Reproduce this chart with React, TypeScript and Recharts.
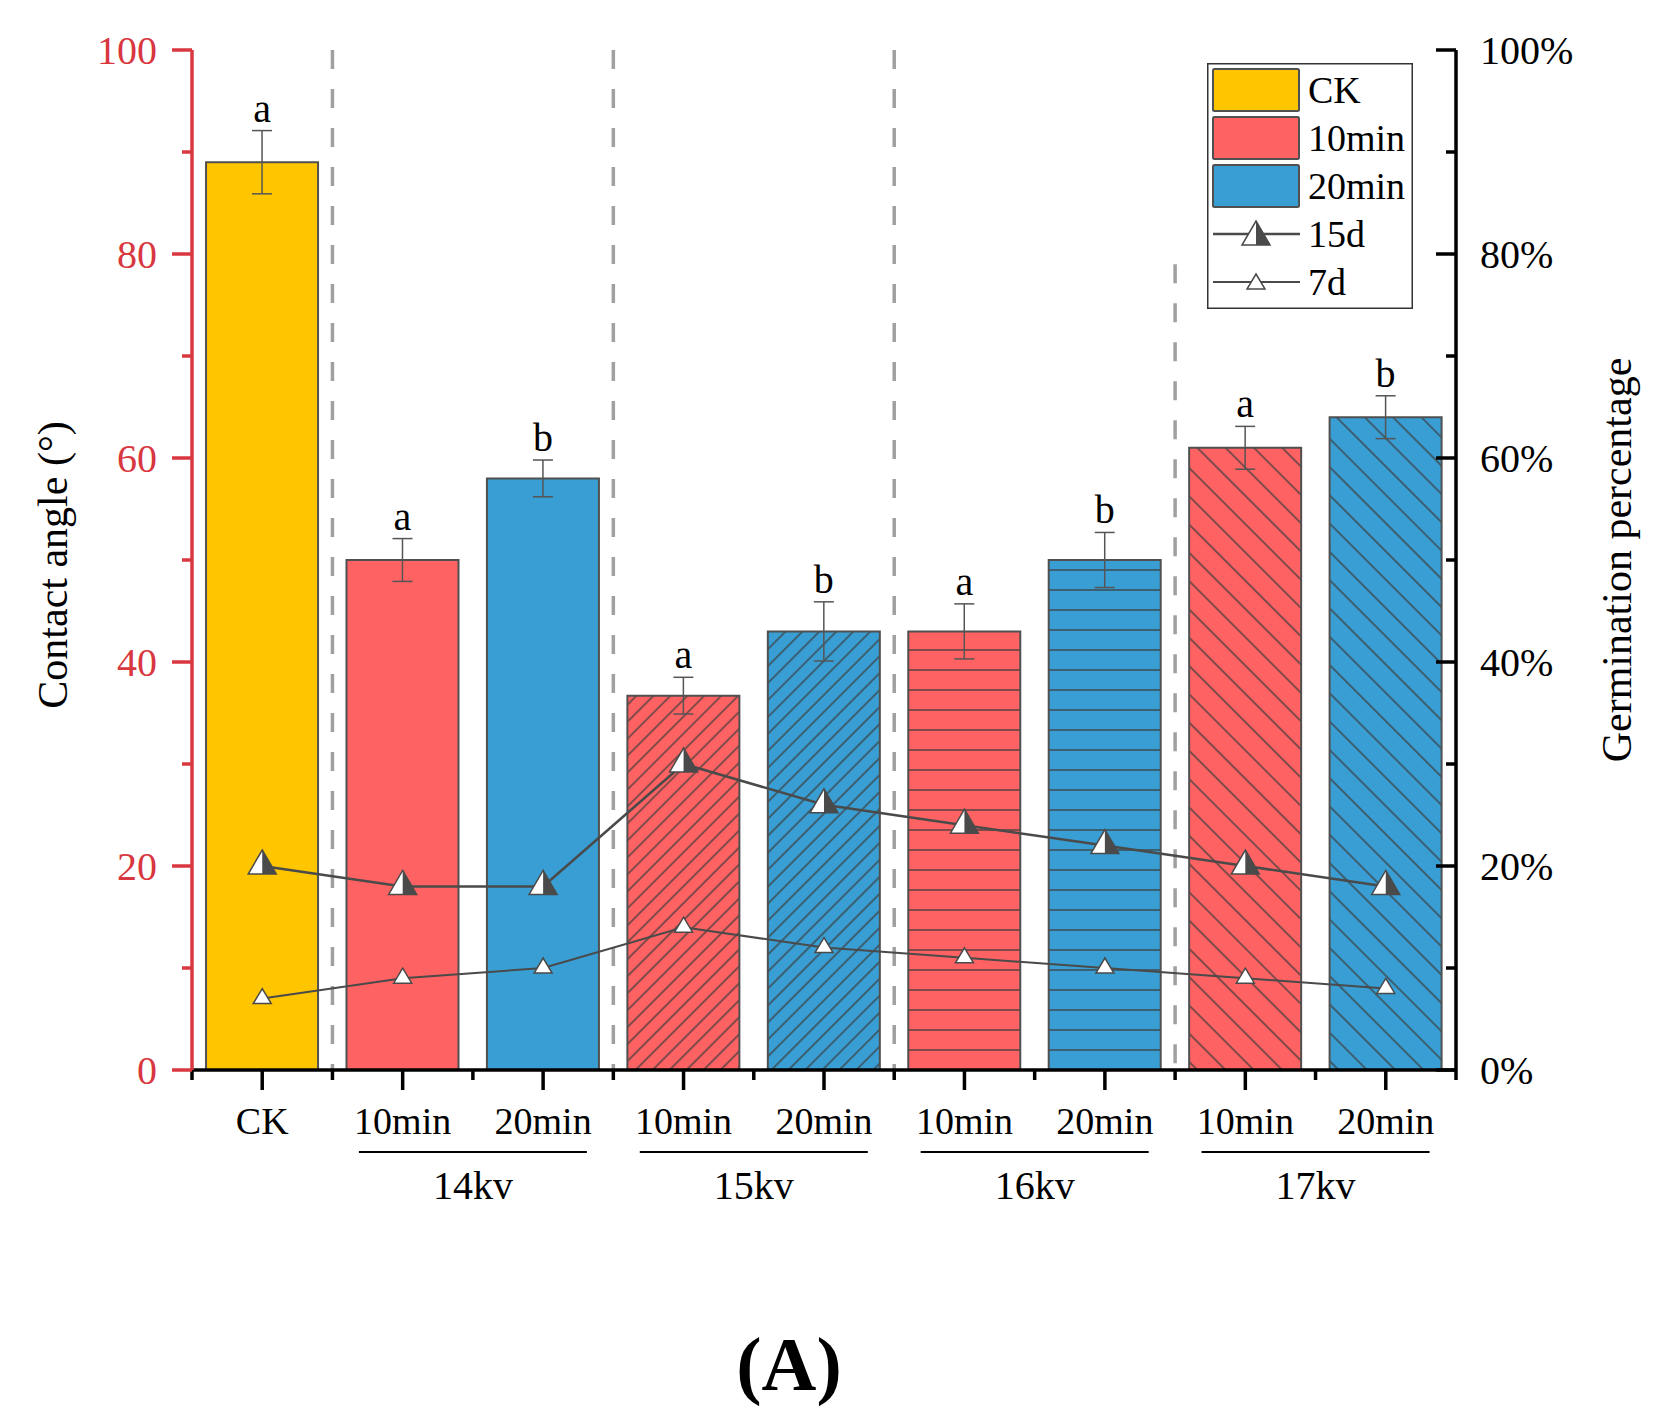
import { Bar, Cell, ComposedChart, ErrorBar, Label, LabelList, Legend, Line, ReferenceLine, XAxis, YAxis } from 'recharts'

const CATEGORIES = ['CK', '10min', '20min', '10min', '20min', '10min', '20min', '10min', '20min']
const GROUPS = ['', '14kv', '14kv', '15kv', '15kv', '16kv', '16kv', '17kv', '17kv']
const ANGLE = [89, 50, 58, 36.7, 43, 43, 50, 61, 64]
const ANGLE_SD = [3.1, 2.1, 1.8, 1.8, 2.9, 2.7, 2.7, 2.1, 2.1]
const LETTERS = ['a', 'a', 'b', 'a', 'b', 'a', 'b', 'a', 'b']
const GERM_15D = [20, 18, 18, 30, 26, 24, 22, 20, 18]
const GERM_7D = [7, 9, 10, 14, 12, 11, 10, 9, 8]
const Y_TICKS = [0, 10, 20, 30, 40, 50, 60, 70, 80, 90, 100]
const LEGEND_LABELS = ['CK', '10min', '20min', '15d', '7d']

const FONT = '"Liberation Serif", "Times New Roman", serif'
const RED_AXIS = '#d8373f'
const YELLOW = '#ffc600'
const RED = '#ff6262'
const BLUE = '#389ed3'
const OUTLINE = '#505050'
const MARKER = '#4a4a4a'
const DASH = '#a0a0a0'

// unique key per bar so the category axis keeps all nine slots apart
const keyOf = (i: number) => `${GROUPS[i] || 'ctrl'} ${CATEGORIES[i]}`

const data = CATEGORIES.map((cond, i) => ({
  key: keyOf(i),
  angle: ANGLE[i],
  sd: ANGLE_SD[i],
  d15: GERM_15D[i],
  d7: GERM_7D[i],
}))

// first bar of every voltage group gets a dashed separator on its left
const separators = GROUPS.map((g, i) => (g && GROUPS[i - 1] !== g ? keyOf(i) : null)).filter(Boolean) as string[]

const PATTERN_BY_GROUP: Record<string, string> = { '15kv': 'fwd', '16kv': 'horiz', '17kv': 'back' }

function barFill(i: number) {
  if (!GROUPS[i]) return YELLOW
  const tone = CATEGORIES[i] === '10min' ? 'red' : 'blue'
  const pat = PATTERN_BY_GROUP[GROUPS[i]]
  if (pat) return `url(#${pat}-${tone})`
  return tone === 'red' ? RED : BLUE
}

function Hatch({ id, color, angle, gap }: { id: string; color: string; angle: number; gap: number }) {
  return (
    <pattern id={id} patternUnits="userSpaceOnUse" width={gap} height={gap} patternTransform={`rotate(${angle})`}>
      <rect width={gap} height={gap} fill={color} />
      <line x1={gap / 2} y1={0} x2={gap / 2} y2={gap} stroke="#3d3d3d" strokeWidth={1.3} />
    </pattern>
  )
}

function HalfTriangle({ cx, cy }: { cx: number; cy: number }) {
  return (
    <g>
      <polygon points={`${cx},${cy - 16} ${cx + 14},${cy + 8} ${cx - 14},${cy + 8}`} fill="#fff" stroke={MARKER} strokeWidth={1.5} />
      <polygon points={`${cx},${cy - 16} ${cx + 14},${cy + 8} ${cx},${cy + 8}`} fill={MARKER} />
    </g>
  )
}

function OpenTriangle({ cx, cy }: { cx: number; cy: number }) {
  return <polygon points={`${cx},${cy - 10} ${cx + 9},${cy + 5} ${cx - 9},${cy + 5}`} fill="#fff" stroke={MARKER} strokeWidth={1.5} />
}

const textStyle = { fontFamily: FONT, fontSize: 40 }

function LeftTick({ x, y, payload }: any) {
  const major = payload.value % 20 === 0
  return (
    <g>
      <line x1={x - (major ? 20 : 10)} x2={x} y1={y} y2={y} stroke={RED_AXIS} strokeWidth={3.5} />
      {major && (
        <text x={x - 35} y={y} textAnchor="end" dominantBaseline="central" fill={RED_AXIS} style={textStyle}>
          {payload.value}
        </text>
      )}
    </g>
  )
}

function RightTick({ x, y, payload }: any) {
  const major = payload.value % 20 === 0
  return (
    <g>
      <line x1={x - (major ? 20 : 10)} x2={x} y1={y} y2={y} stroke="#000" strokeWidth={3.5} />
      {major && (
        <text x={x + 24} y={y} textAnchor="start" dominantBaseline="central" fill="#000" style={textStyle}>
          {`${payload.value}%`}
        </text>
      )}
    </g>
  )
}

function CategoryTick(props: any) {
  const { x, y, index, width, visibleTicksCount } = props
  const band = width / visibleTicksCount
  const group = GROUPS[index]
  const groupStart = group && GROUPS[index - 1] !== group
  const gx = x + band / 2
  return (
    <g>
      <line x1={x} x2={x} y1={y} y2={y + 20} stroke="#000" strokeWidth={3.5} />
      <line x1={x - band / 2} x2={x - band / 2} y1={y} y2={y + 10} stroke="#000" strokeWidth={3.5} />
      {index === visibleTicksCount - 1 && <line x1={x + band / 2} x2={x + band / 2} y1={y} y2={y + 10} stroke="#000" strokeWidth={3.5} />}
      <text x={x} y={y + 51} textAnchor="middle" dominantBaseline="central" fill="#000" style={{ fontFamily: FONT, fontSize: 38 }}>
        {CATEGORIES[index]}
      </text>
      {groupStart && (
        <g>
          <line x1={gx - 114} x2={gx + 114} y1={y + 82} y2={y + 82} stroke="#000" strokeWidth={2} />
          <text x={gx} y={y + 115} textAnchor="middle" dominantBaseline="central" fill="#000" style={textStyle}>
            {group}
          </text>
        </g>
      )}
    </g>
  )
}

function LetterLabel(props: any) {
  const { x, y, width, height, value, index } = props
  const perUnit = height / value
  const top = y - ANGLE_SD[index] * perUnit
  return (
    <text x={x + width / 2} y={top - 9} textAnchor="middle" fill="#000" style={textStyle}>
      {LETTERS[index]}
    </text>
  )
}

function LegendBox() {
  const swatches = [YELLOW, RED, BLUE]
  return (
    <svg width={206} height={246} style={{ display: 'block' }}>
      <rect x={0.75} y={0.75} width={204.5} height={244.5} fill="#fff" stroke="#333" strokeWidth={1.5} />
      {LEGEND_LABELS.map((name, i) => {
        const cy = 27 + i * 48
        return (
          <g key={name}>
            {i < 3 && <rect x={6} y={cy - 21} width={86} height={42} rx={1.5} fill={swatches[i]} stroke={OUTLINE} strokeWidth={2} />}
            {i >= 3 && <line x1={6} x2={93} y1={cy} y2={cy} stroke={MARKER} strokeWidth={i === 3 ? 2.5 : 2} />}
            {i === 3 && <HalfTriangle cx={49} cy={cy + 3} />}
            {i === 4 && <OpenTriangle cx={49} cy={cy + 2} />}
            <text x={101} y={cy + 13} fill="#000" style={{ fontFamily: FONT, fontSize: 38 }}>
              {name}
            </text>
          </g>
        )
      })}
    </svg>
  )
}

const dashStyle = { stroke: DASH, strokeWidth: 3.5, strokeDasharray: '19 20' }

export default function App() {
  const lastSep = separators[separators.length - 1]
  return (
    <div style={{ width: 1665, height: 1426 }}>
      <style>{'body{margin:0}'}</style>
      <ComposedChart
        width={1665}
        height={1426}
        data={data}
        margin={{ top: 50, right: 0, bottom: 0, left: 0 }}
        barCategoryGap="10%"
        style={{ fontFamily: FONT }}
      >
        <defs>
          <Hatch id="fwd-red" color={RED} angle={45} gap={12} />
          <Hatch id="fwd-blue" color={BLUE} angle={45} gap={12} />
          <Hatch id="horiz-red" color={RED} angle={90} gap={20} />
          <Hatch id="horiz-blue" color={BLUE} angle={90} gap={20} />
          <Hatch id="back-red" color={RED} angle={-45} gap={20} />
          <Hatch id="back-blue" color={BLUE} angle={-45} gap={20} />
        </defs>
        <XAxis
          xAxisId="cat"
          dataKey="key"
          height={356}
          interval={0}
          tickSize={0}
          tickMargin={0}
          tickLine={false}
          axisLine={{ stroke: '#000', strokeWidth: 3.5 }}
          tick={CategoryTick}
        >
          <Label
            content={({ viewBox }: any) => (
              <text
                x={viewBox.x + viewBox.width / 2 - 35}
                y={viewBox.y + 320}
                textAnchor="middle"
                fill="#000"
                style={{ fontFamily: FONT, fontSize: 76, fontWeight: 'bold' }}
              >
                (A)
              </text>
            )}
          />
        </XAxis>
        <XAxis
          xAxisId="top"
          orientation="top"
          type="number"
          domain={[0, 9]}
          allowDataOverflow
          height={0}
          tick={false}
          tickLine={false}
          axisLine={{ stroke: '#000', strokeWidth: 3.5 }}
        />
        <YAxis
          yAxisId="left"
          width={192}
          domain={[0, 100]}
          ticks={Y_TICKS}
          interval={0}
          tickSize={0}
          tickMargin={0}
          tickLine={false}
          axisLine={{ stroke: RED_AXIS, strokeWidth: 3.5 }}
          tick={LeftTick}
        >
          <Label
            content={({ viewBox }: any) => {
              const cx = viewBox.x + 53
              const cy = viewBox.y + viewBox.height / 2 + 5
              return (
                <text x={cx} y={cy} transform={`rotate(-90 ${cx} ${cy})`} textAnchor="middle" dominantBaseline="central" fill="#000" style={{ fontFamily: FONT, fontSize: 42 }}>
                  Contact angle (°)
                </text>
              )
            }}
          />
        </YAxis>
        <YAxis
          yAxisId="right"
          orientation="right"
          width={209}
          domain={[0, 100]}
          ticks={Y_TICKS}
          interval={0}
          tickSize={0}
          tickMargin={0}
          tickLine={false}
          axisLine={{ stroke: '#000', strokeWidth: 3.5 }}
          tick={RightTick}
        >
          <Label
            content={({ viewBox }: any) => {
              const cx = viewBox.x + 161
              const cy = viewBox.y + viewBox.height / 2
              return (
                <text x={cx} y={cy} transform={`rotate(-90 ${cx} ${cy})`} textAnchor="middle" dominantBaseline="central" fill="#000" style={{ fontFamily: FONT, fontSize: 42 }}>
                  Germination percentage
                </text>
              )
            }}
          />
        </YAxis>
        {separators.map((k) => (
          <ReferenceLine
            key={k}
            xAxisId="cat"
            yAxisId="left"
            position="start"
            segment={[
              { x: k, y: k === lastSep ? 79 : 100 },
              { x: k, y: 0 },
            ]}
            {...dashStyle}
          />
        ))}
        <Bar xAxisId="cat" yAxisId="left" dataKey="angle" stroke={OUTLINE} strokeWidth={2} isAnimationActive={false}>
          {data.map((d, i) => (
            <Cell key={d.key} fill={barFill(i)} />
          ))}
          <ErrorBar dataKey="sd" width={10} stroke="#555" strokeWidth={1.5} direction="y" isAnimationActive={false} />
          <LabelList dataKey="angle" content={LetterLabel} />
        </Bar>
        <Line
          xAxisId="cat"
          yAxisId="right"
          dataKey="d15"
          stroke={MARKER}
          strokeWidth={2.5}
          dot={(p: any) => <HalfTriangle key={p.index} cx={p.cx} cy={p.cy} />}
          activeDot={false}
          isAnimationActive={false}
        />
        <Line
          xAxisId="cat"
          yAxisId="right"
          dataKey="d7"
          stroke={MARKER}
          strokeWidth={2}
          dot={(p: any) => <OpenTriangle key={p.index} cx={p.cx} cy={p.cy} />}
          activeDot={false}
          isAnimationActive={false}
        />
        <Legend
          layout="horizontal"
          verticalAlign="middle"
          align="center"
          content={() => <LegendBox />}
          wrapperStyle={{ left: 1207, top: 63, width: 206, height: 246 }}
        />
      </ComposedChart>
    </div>
  )
}
